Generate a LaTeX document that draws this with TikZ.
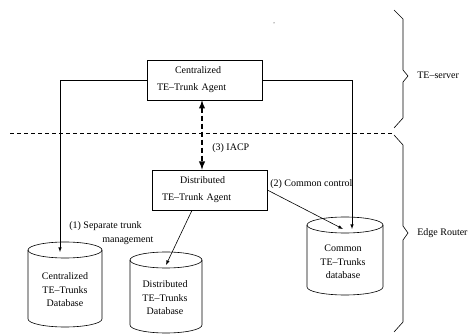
\documentclass[tikz,border=0pt]{standalone}
\usepackage{fontspec}
\setmainfont{Liberation Serif}
\usetikzlibrary{shapes.geometric, arrows}

\begin{document}
\begin{tikzpicture}[
            x=1pt, y=-1pt, >=latex, line width=0.6pt,
            every node/.style={font=\fontsize{10}{13.5}\selectfont}, % Times-like text
            agent/.style={draw, rectangle, minimum height=40pt, inner xsep=10pt, text width=95pt, align=left, font=\fontsize{10}{17}\selectfont}, % Agent boxes
            dbtext/.style={align=center}, % Text inside a database
            tag/.style={inner sep=0pt, anchor=west} % Connector labels
            ]
        \useasboundingbox (0,0) rectangle (471,336);

                % Agents
                \node[agent] (cagent) at (204.5,80) {\hspace*{18pt}Centralized\\TE--Trunk Agent};
                \node[agent] (dagent) at (209.5,190) {\hspace*{18pt}Distributed\\TE--Trunk Agent};

                % Databases (drawn as cylinders)
                \coordinate (cdbtop) at (65,250);
                \draw (28,250) -- (28,319) arc[start angle=180, end angle=360, x radius=37pt, y radius=8pt] -- (102,250);
                \draw (cdbtop) ellipse [x radius=37pt, y radius=8pt];
                \node[dbtext] (cdb) at (65,290) {Centralized\\TE--Trunks\\Database};

                \coordinate (ddbtop) at (166,260);
                \draw (130,260) -- (130,325) arc[start angle=180, end angle=360, x radius=36pt, y radius=8pt] -- (202,260);
                \draw (ddbtop) ellipse [x radius=36pt, y radius=8pt];
                \node[dbtext] (ddb) at (165,298) {Distributed\\TE--Trunks\\Database};

                \coordinate (comdbtop) at (345,225);
                \draw (307,225) -- (307,287) arc[start angle=180, end angle=360, x radius=38pt, y radius=8pt] -- (383,225);
                \draw (comdbtop) ellipse [x radius=38pt, y radius=8pt];
                \node[dbtext] (comdb) at (343,262) {Common\\TE--Trunks\\database};

                % Server / router border
                \draw[dashed, dash pattern=on 4pt off 3pt] (10,133) -- (392,133);
                \fill (274,23) circle (0.5pt);

                % Connectors
                \draw[->] (cagent.west) -| ([xshift=-5pt,yshift=-2pt]cdbtop);
                \draw[->] (cagent.east) -| ([xshift=7pt,yshift=-4pt]comdbtop);
                \draw[<->, dashed, line width=1.8pt, dash pattern=on 5pt off 3pt] ([xshift=-2.5pt]cagent.south) -- ([xshift=-7.5pt]dagent.north);
                \draw[->] (dagent.east) -- ([xshift=-2pt,yshift=-4pt]comdbtop);
                \draw[->] ([xshift=-17.5pt]dagent.south) -- ([yshift=-5pt]ddbtop);

                % Labels
                \node[tag] (iacp) at (212,148) {(3) IACP};
                \node[tag] (common) at (270,184) {(2) Common control};
                \node[tag, align=left] (separate) at (69,233) {(1) Separate trunk\\\hspace*{33pt}management};

                % Braces
                \draw (394,10) -- (403,19) -- (403,70) -- (408,76) -- (403,82) -- (403,118) -- (394,128);
                \draw (394,135) -- (403,145) -- (403,226) -- (408,233) -- (403,240) -- (403,322) -- (394,332);
                \node[tag] (server) at (417,75) {TE--server};
                \node[tag] (router) at (417,233) {Edge Router};

            \end{tikzpicture}
\end{document}
